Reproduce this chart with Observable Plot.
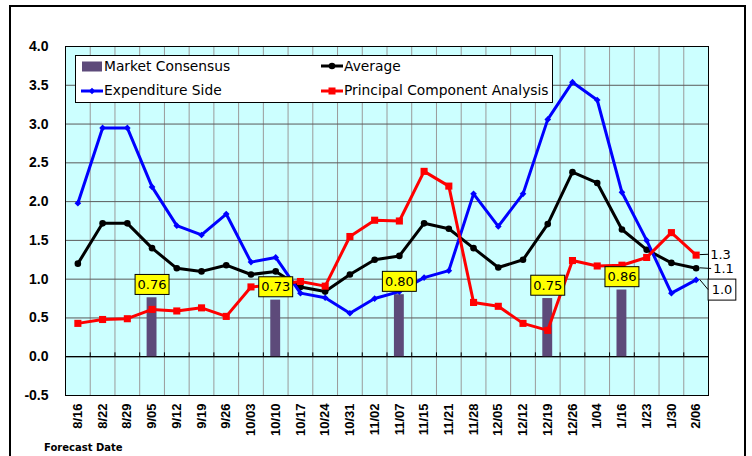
<!DOCTYPE html>
<html>
<head>
<meta charset="utf-8">
<script src="https://cdn.jsdelivr.net/npm/d3@7"></script>
<script src="https://cdn.jsdelivr.net/npm/@observablehq/plot@0.6"></script>
<style>
  html, body { margin: 0; padding: 0; background: white; overflow: hidden; }
  #chart { width: 752px; height: 456px; }
</style>
</head>
<body>
<div id="chart"></div>
<script>
const dates = ["8/16","8/22","8/29","9/05","9/12","9/19","9/26","10/03","10/10","10/17","10/24","10/31","11/02","11/07","11/15","11/21","11/28","12/05","12/12","12/19","12/26","1/04","1/16","1/23","1/30","2/06"];
const average     = [1.20,1.72,1.72,1.40,1.14,1.10,1.18,1.06,1.10,0.90,0.84,1.06,1.25,1.30,1.72,1.65,1.40,1.15,1.25,1.71,2.38,2.24,1.64,1.38,1.21,1.14];
const expenditure = [1.98,2.95,2.95,2.19,1.69,1.57,1.84,1.22,1.28,0.82,0.76,0.56,0.75,0.84,1.02,1.11,2.10,1.68,2.10,3.06,3.54,3.31,2.12,1.50,0.82,0.99];
const pca         = [0.43,0.48,0.49,0.61,0.59,0.63,0.52,0.90,0.93,0.97,0.91,1.55,1.76,1.75,2.39,2.20,0.70,0.65,0.43,0.34,1.24,1.17,1.18,1.28,1.60,1.31];
const consensusDates  = ["9/05","10/10","11/07","12/19","1/16"];
const consensusValues = [0.76,0.73,0.80,0.75,0.86];
const yTicks = [-0.5,0,0.5,1,1.5,2,2.5,3,3.5,4];
const endLabels = ["1.3","1.1","1.0"];

const PURPLE = "#5d4a7a";
const idx = d3.range(dates.length);
const last = dates.length - 1;
const boundaries = d3.range(dates.length - 1).map(i => i + 0.5);
const consensus = consensusDates.map((d, k) => ({i: dates.indexOf(d), v: consensusValues[k]}));
const series = (arr) => arr.map((v, i) => ({i, v}));

const plot = Plot.plot({
  width: 752,
  height: 456,
  marginLeft: 65,
  marginRight: 44,
  marginTop: 46,
  marginBottom: 61,
  style: {fontFamily: "DejaVu Sans", fontSize: "13px", background: "transparent"},
  x: {domain: [-0.5, dates.length - 0.5]},
  y: {domain: [-0.5, 4]},
  marks: [
    Plot.frame({fill: "#ccffff", stroke: null}),
    Plot.ruleX(boundaries, {stroke: "#9a9a9a", strokeWidth: 1}),
    Plot.ruleY(yTicks, {stroke: "#5a5a5a", strokeWidth: 1}),
    Plot.ruleY([0], {stroke: "black", strokeWidth: 1.2}),
    Plot.ruleX(boundaries, {y1: 0, y2: 0.05, stroke: "black"}),
    Plot.axisY({ticks: yTicks, tickFormat: d => d.toFixed(1), tickSize: 0, tickPadding: 17, label: null,
      fontFamily: "Liberation Sans", fontWeight: "bold", fontSize: 14, fill: "black"}),
    Plot.axisX({ticks: idx, tickFormat: i => dates[i], tickRotate: -90, tickSize: 0, tickPadding: 8, label: null,
      fontFamily: "Liberation Sans", fontWeight: "bold", fontSize: 13, fill: "black"}),
    Plot.rectY(consensus, {x1: d => d.i - 0.2, x2: d => d.i + 0.2, y1: 0, y2: d => d.v, fill: PURPLE}),
    Plot.line(series(average), {x: "i", y: "v", stroke: "black", strokeWidth: 3}),
    Plot.dot(series(average), {x: "i", y: "v", fill: "black", r: 3.3, symbol: "circle"}),
    Plot.line(series(expenditure), {x: "i", y: "v", stroke: "#0000ff", strokeWidth: 3}),
    Plot.dot(series(expenditure), {x: "i", y: "v", fill: "#0000ff", r: 3, symbol: "diamond2"}),
    Plot.line(series(pca), {x: "i", y: "v", stroke: "#ff0000", strokeWidth: 3}),
    Plot.dot(series(pca), {x: "i", y: "v", fill: "#ff0000", r: 4, symbol: "square"}),
    Plot.frame({stroke: "black", strokeWidth: 1}),
    Plot.text(consensus, {x: "i", y: "v", text: d => d.v.toFixed(2), dy: -13, fontSize: 13, fill: "black"}),
    Plot.text([{i: last, v: pca[last]}], {x: "i", y: "v", text: () => endLabels[0], dx: 14, dy: -0.5, textAnchor: "start", fontSize: 13, fill: "black"}),
    Plot.text([{i: last, v: average[last]}], {x: "i", y: "v", text: () => endLabels[1], dx: 17, dy: 0.5, textAnchor: "start", fontSize: 13, fill: "black"}),
    Plot.text([{i: last, v: expenditure[last]}], {x: "i", y: "v", text: () => endLabels[2], dx: 15.5, dy: 10, textAnchor: "start", fontSize: 13, fill: "black"})
  ]
});

document.getElementById("chart").appendChild(plot);
const svgns = "http://www.w3.org/2000/svg";
const svg = d3.select(plot);
const xs = plot.scale("x"), ys = plot.scale("y");
const svgRect = plot.getBoundingClientRect();

function boxify(g, padX, padY) {
  g.querySelectorAll("text").forEach(t => {
    const b = t.getBBox();
    const r = document.createElementNS(svgns, "rect");
    r.setAttribute("x", b.x - padX);
    r.setAttribute("y", b.y + b.height / 2 - padY);
    r.setAttribute("width", b.width + 2 * padX);
    r.setAttribute("height", 2 * padY);
    r.setAttribute("fill", "#ffff00");
    r.setAttribute("stroke", "black");
    r.setAttribute("stroke-width", 1);
    if (t.getAttribute("transform")) r.setAttribute("transform", t.getAttribute("transform"));
    t.parentNode.insertBefore(r, t);
  });
}

const textGroups = plot.querySelectorAll('g[aria-label="text"]');
boxify(textGroups[0], 2.5, 10);

// end labels with leader lines
const endVals = [pca[last], average[last], expenditure[last]];
[1, 2, 3].forEach((gi, k) => {
  const g = textGroups[gi];
  const t = g.querySelector("text");
  if (k === 2) {
    boxify(g, 3.5, 10.5);
    g.querySelector("rect").setAttribute("fill", "white");
  }
  const bb = (k === 2 ? g.querySelector("rect") : t).getBoundingClientRect();
  const tx = bb.left - svgRect.left - (k === 2 ? 0 : 2);
  const ty = bb.top - svgRect.top + bb.height / 2;
  const px = xs.apply(last) + 4, py = ys.apply(endVals[k]);
  svg.append("line").attr("x1", px).attr("y1", py).attr("x2", tx).attr("y2", ty)
    .attr("stroke", "black").attr("stroke-width", 1);
});

// legend
const lg = svg.append("g").attr("font-family", "DejaVu Sans").attr("font-size", 13.8).attr("text-anchor", "start");
lg.append("rect").attr("x", 75.5).attr("y", 55.5).attr("width", 477).attr("height", 47)
  .attr("fill", "white").attr("stroke", "black");
lg.append("rect").attr("x", 82).attr("y", 61.5).attr("width", 20).attr("height", 10).attr("fill", PURPLE);
lg.append("text").attr("x", 104).attr("y", 70.5).text("Market Consensus");
lg.append("line").attr("x1", 321).attr("x2", 343).attr("y1", 66).attr("y2", 66).attr("stroke", "black").attr("stroke-width", 3);
lg.append("circle").attr("cx", 332).attr("cy", 66).attr("r", 3.3).attr("fill", "black");
lg.append("text").attr("x", 344).attr("y", 70.5).text("Average");
lg.append("line").attr("x1", 81).attr("x2", 103).attr("y1", 91).attr("y2", 91).attr("stroke", "#0000ff").attr("stroke-width", 3);
lg.append("path").attr("d", d3.symbol(d3.symbolDiamond2, 28)()).attr("transform", "translate(92,91)").attr("fill", "#0000ff");
lg.append("text").attr("x", 104).attr("y", 94.5).text("Expenditure Side");
lg.append("line").attr("x1", 321).attr("x2", 343).attr("y1", 91).attr("y2", 91).attr("stroke", "#ff0000").attr("stroke-width", 3);
lg.append("rect").attr("x", 328.5).attr("y", 87.5).attr("width", 7).attr("height", 7).attr("fill", "#ff0000");
lg.append("text").attr("x", 344).attr("y", 94.5).text("Principal Component Analysis");

// axis caption
svg.append("text").attr("x", 44).attr("y", 451).attr("text-anchor", "start").attr("font-family", "DejaVu Sans").attr("font-weight", "bold")
  .attr("font-size", 10).text("Forecast Date");

// outer frame
svg.append("rect").attr("x", 10).attr("y", 6).attr("width", 735).attr("height", 470)
  .attr("fill", "none").attr("stroke", "black").attr("stroke-width", 2);
</script>
</body>
</html>
